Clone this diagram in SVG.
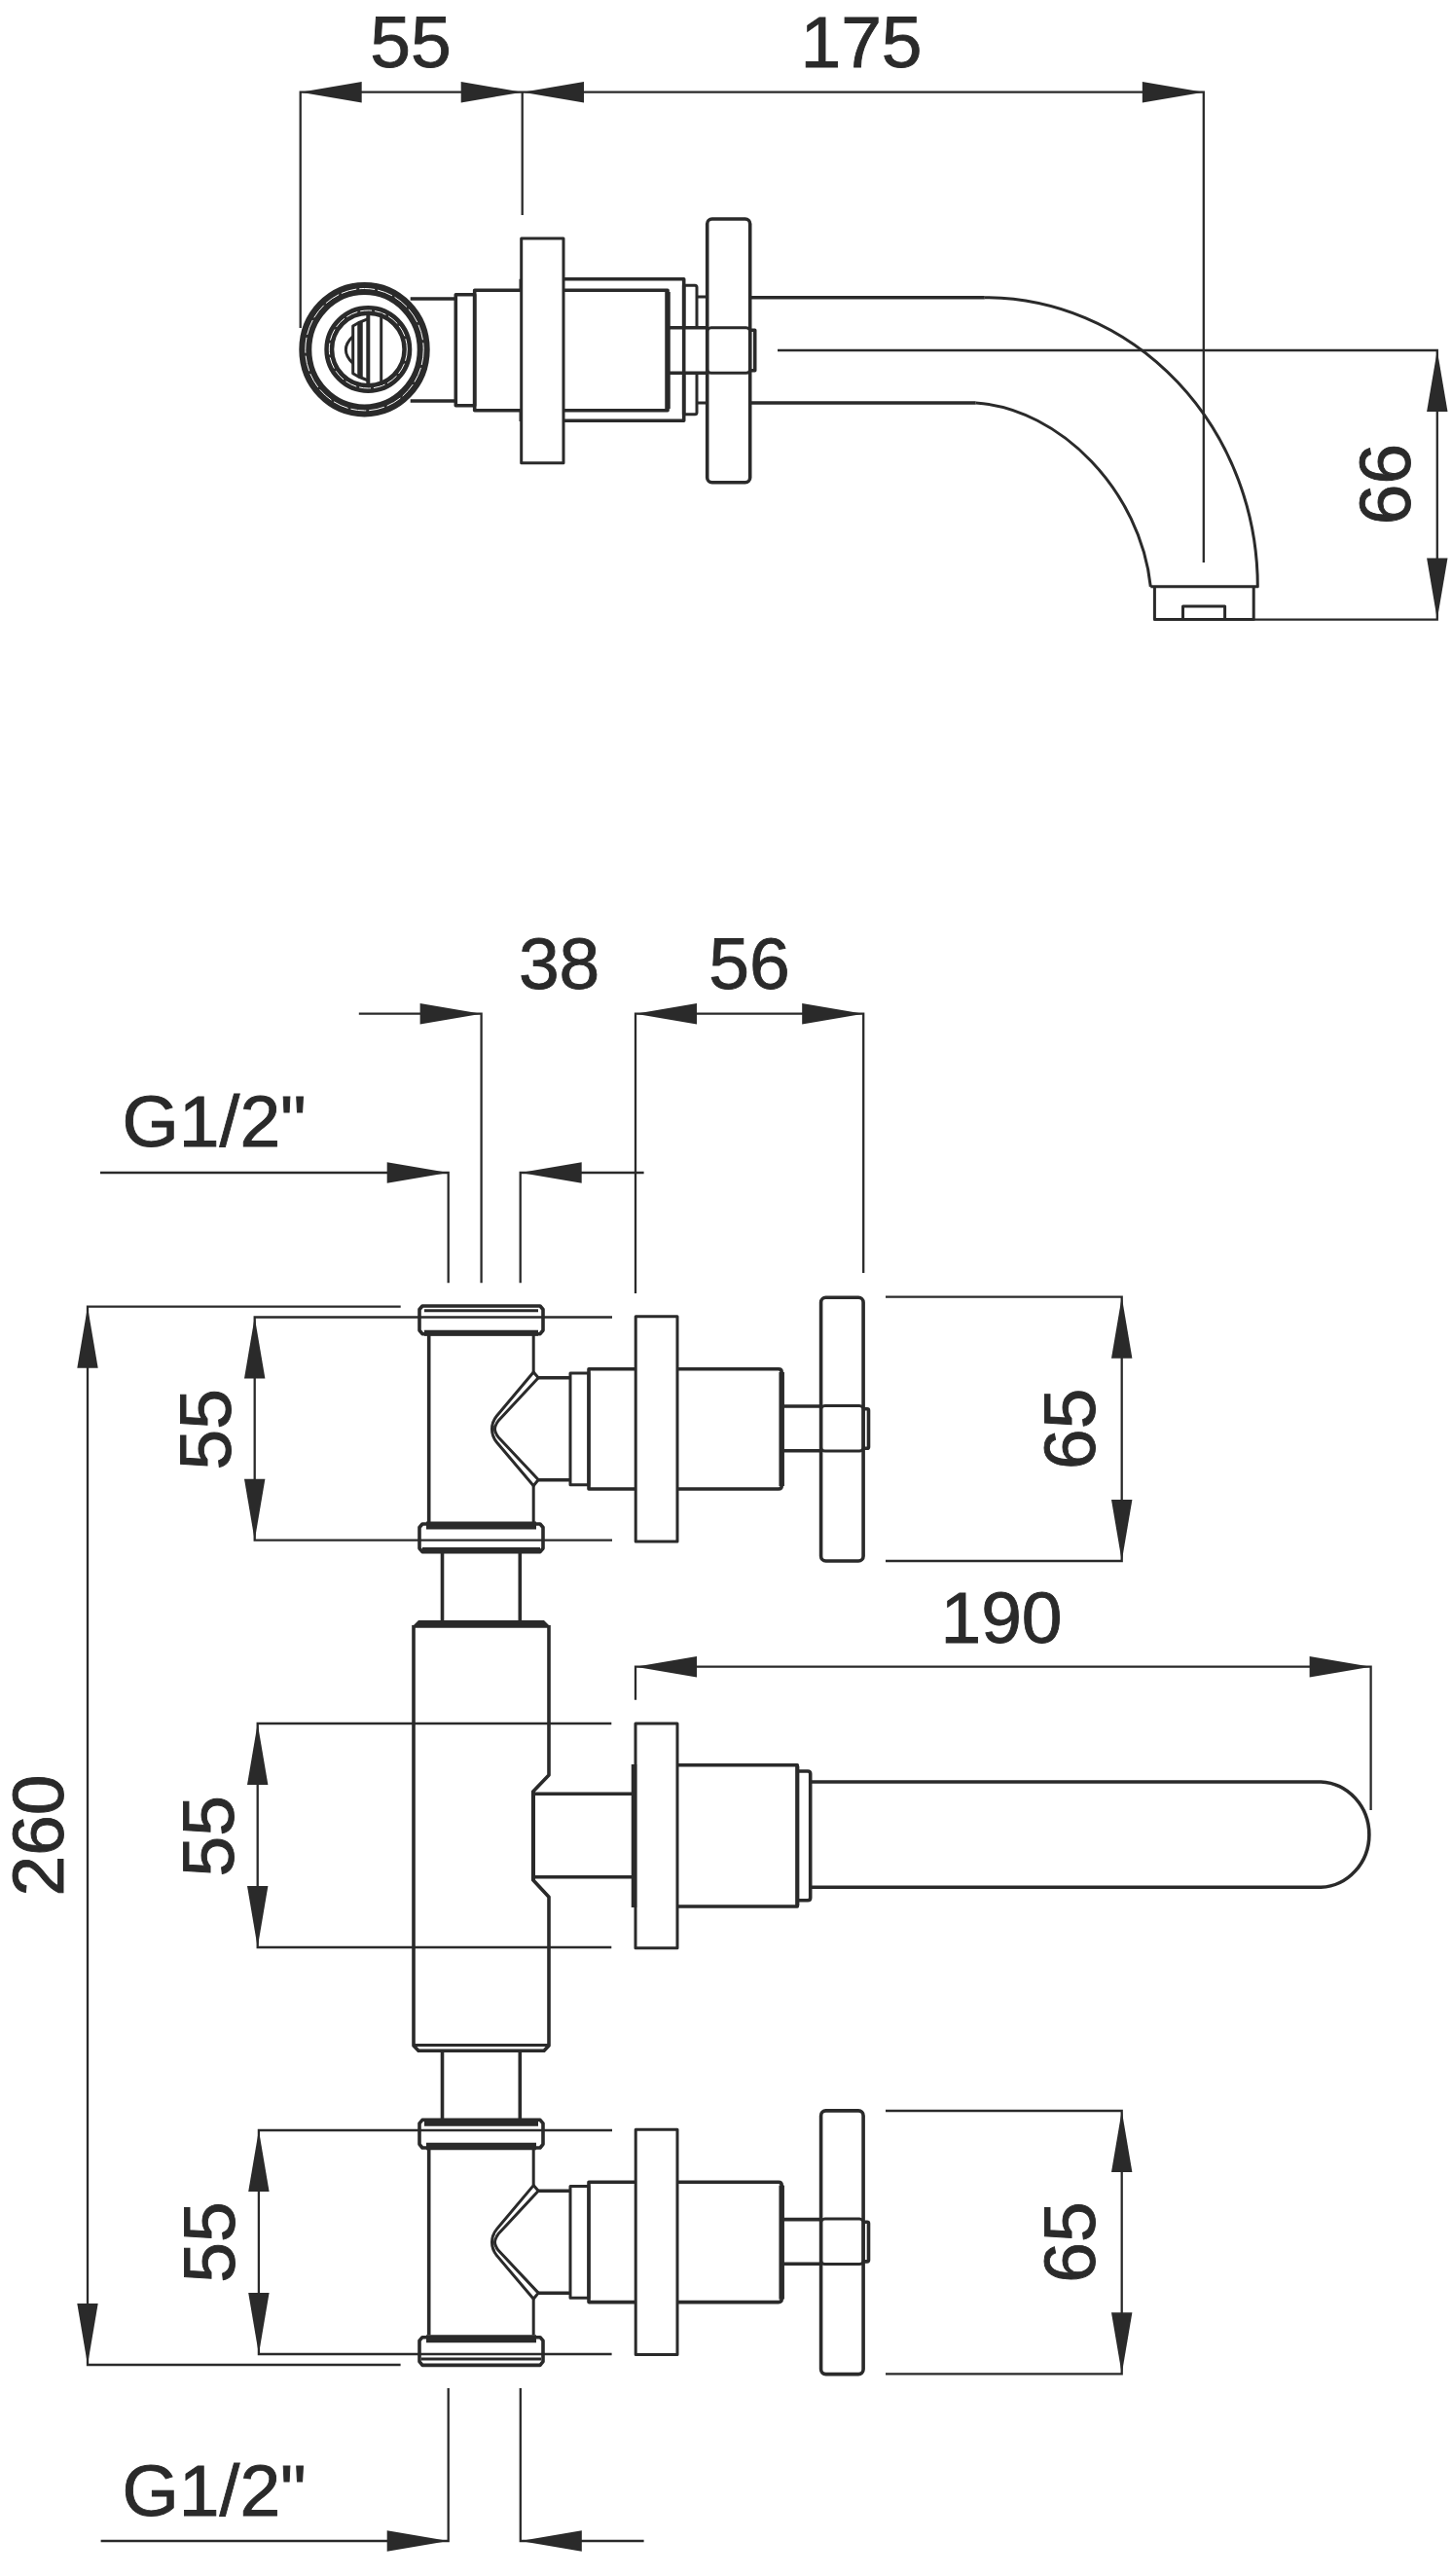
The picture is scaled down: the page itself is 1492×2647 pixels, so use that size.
<svg xmlns="http://www.w3.org/2000/svg" xmlns:xlink="http://www.w3.org/1999/xlink" width="1492" height="2647" viewBox="0 0 1492 2647">
<style>
.o{fill:none;stroke:#2a2a2a;stroke-width:3.6;stroke-linejoin:round}
.t{fill:none;stroke:#2a2a2a;stroke-width:3;stroke-linejoin:round}
.h{fill:none;stroke:#2a2a2a;stroke-width:5.5}
.d{fill:none;stroke:#2a2a2a;stroke-width:2.3}
.a{fill:#2a2a2a}
text{font-family:"Liberation Sans",Arial,sans-serif;font-size:75px;fill:#2a2a2a;stroke:#2a2a2a;stroke-width:.9;text-anchor:middle}
.g{text-anchor:start}
</style>
<defs>
<polygon id="ah" class="a" points="0,0 -63,-10.7 -63,10.7"/>
<g id="valve">
<path class="o" d="M440.7 1372V1564"/>
<path class="t" d="M548.2 1372V1410M548.2 1527V1564"/>
<path class="t" d="M548.2 1410L510.4 1455Q505.5 1461 505.5 1468.5Q505.5 1476 510.4 1482L548.2 1526.7L553.2 1520.5L512 1476.7Q508.5 1472 508.5 1468.5Q508.5 1465 512 1460L553.2 1415.7Z"/>
<path class="o" d="M553.2 1415.7H586M553.2 1520.7H586"/>
<rect class="t" x="586" y="1411" width="19" height="114.7"/>
<path class="o" d="M653.2 1406.7H605V1530H653.2"/>
<rect class="t" x="653.2" y="1352.7" width="42.8" height="231.3"/>
<path class="o" d="M696 1406.7H800Q803.2 1406.7 803.2 1410V1527Q803.2 1530 800 1530H696"/>
<path class="h" d="M803.2 1410V1527"/>
<path class="o" d="M803.2 1445H843.6M803.2 1490.7H843.6"/>
<rect class="o" x="843.6" y="1333.3" width="43.5" height="270.7" rx="5"/>
<rect class="t" x="843.6" y="1444.5" width="43.5" height="46.5" rx="4"/>
<path class="o" d="M887.1 1447.7H891Q892.5 1447.7 892.5 1449.2V1487Q892.5 1488.3 891 1488.3H887.1"/>
</g>
<path id="cap" class="o" d="M434 0H555L558 3.5V25L555 28.7H434L431 25V3.5Z"/>
</defs>

<g id="connectors">
<path class="d" d="M308.7 337V94.7H1236.8V578"/>
<path class="d" d="M536.7 94.7V221"/>
<path class="d" d="M799 360H1476.8V636.6H1288"/>
<path class="d" d="M368.8 1041.7H494.6V1318.3"/>
<path class="d" d="M653 1329V1041.7H887.2V1308"/>
<path class="d" d="M103 1205H460.7V1318.3"/>
<path class="d" d="M661.6 1205H534.7V1318.3"/>
<path class="d" d="M411.7 1342.7H90V2430H411.6"/>
<path class="d" d="M629 1353.5H261.7V1582.7H629"/>
<path class="d" d="M628.3 1771H264.7V2001H628.3"/>
<path class="d" d="M629 2189H265.9V2419H628.6"/>
<path class="d" d="M910 1332.7H1152.7V1604H910"/>
<path class="d" d="M910 2169H1152.7V2439.3H910"/>
<path class="d" d="M653 1746.7V1712.7H1408.6V1860"/>
<path class="d" d="M460.7 2454V2611H103.6"/>
<path class="d" d="M534.8 2454V2611H661.6"/>
<use xlink:href="#ah" transform="translate(308.7 94.7) rotate(180)"/>
<use xlink:href="#ah" transform="translate(536.7 94.7)"/>
<use xlink:href="#ah" transform="translate(537 94.7) rotate(180)"/>
<use xlink:href="#ah" transform="translate(1236.8 94.7)"/>
<use xlink:href="#ah" transform="translate(1476.8 360) rotate(-90)"/>
<use xlink:href="#ah" transform="translate(1476.8 636.6) rotate(90)"/>
<use xlink:href="#ah" transform="translate(494.6 1041.7)"/>
<use xlink:href="#ah" transform="translate(653 1041.7) rotate(180)"/>
<use xlink:href="#ah" transform="translate(887.2 1041.7)"/>
<use xlink:href="#ah" transform="translate(460.7 1205)"/>
<use xlink:href="#ah" transform="translate(534.7 1205) rotate(180)"/>
<use xlink:href="#ah" transform="translate(90 1342.7) rotate(-90)"/>
<use xlink:href="#ah" transform="translate(90 2430) rotate(90)"/>
<use xlink:href="#ah" transform="translate(261.7 1353.5) rotate(-90)"/>
<use xlink:href="#ah" transform="translate(261.7 1582.7) rotate(90)"/>
<use xlink:href="#ah" transform="translate(264.7 1771) rotate(-90)"/>
<use xlink:href="#ah" transform="translate(264.7 2001) rotate(90)"/>
<use xlink:href="#ah" transform="translate(265.9 2189) rotate(-90)"/>
<use xlink:href="#ah" transform="translate(265.9 2419) rotate(90)"/>
<use xlink:href="#ah" transform="translate(1152.7 1332.7) rotate(-90)"/>
<use xlink:href="#ah" transform="translate(1152.7 1604) rotate(90)"/>
<use xlink:href="#ah" transform="translate(1152.7 2169) rotate(-90)"/>
<use xlink:href="#ah" transform="translate(1152.7 2439.3) rotate(90)"/>
<use xlink:href="#ah" transform="translate(653 1712.7) rotate(180)"/>
<use xlink:href="#ah" transform="translate(1408.6 1712.7)"/>
<use xlink:href="#ah" transform="translate(460.7 2611)"/>
<use xlink:href="#ah" transform="translate(534.8 2611) rotate(180)"/>
</g>

<g id="top-view">
<ellipse style="fill:none;stroke:#2a2a2a;stroke-width:13" cx="374.5" cy="359.2" rx="60.7" ry="62.7"/>
<ellipse style="fill:none;stroke:#fff;stroke-width:1;stroke-dasharray:16 3" cx="374.5" cy="359.2" rx="60.7" ry="62.7"/>
<circle style="fill:none;stroke:#2a2a2a;stroke-width:10" cx="378.3" cy="359" r="40"/>
<circle style="fill:none;stroke:#fff;stroke-width:1;stroke-dasharray:12 3" cx="378.3" cy="359" r="40"/>
<path class="h" style="stroke-width:4" d="M378.3 323V395"/>
<path class="t" d="M391.7 321.7V396"/>
<path class="h" d="M370 331V387"/>
<path class="t" d="M378.3 327.7L368.3 331.7L362.7 335V383.7L368.3 387L378.3 391"/>
<path class="t" d="M362.7 345.7Q348 359.3 362.7 373.3"/>
<path class="o" d="M421.7 307H468.3M421.7 412H468.3"/>
<rect class="o" x="468.3" y="302.7" width="19.4" height="114"/>
<path class="o" d="M535.7 298.3H487.7V421.7H535.7"/>
<rect class="t" x="535.7" y="245" width="43.3" height="230.7"/>
<path class="t" d="M535 286.7V298M535 422V433"/>
<path class="o" d="M579 286.7H702.7V432.3H579"/>
<path class="o" d="M579 298.3H686V421.7H579"/>
<path class="h" d="M686 300V420"/>
<path class="t" d="M702.7 293.3H714Q716 293.3 716 295.3V336.7M716 383.3V423.7Q716 425.7 714 425.7H702.7"/>
<path class="o" d="M702.7 336.7V293.3M702.7 383.3V425.7"/>
<path class="o" d="M686 336.7H726.7M686 383.3H726.7"/>
<path class="t" d="M716 305H726.7M716 414H726.7"/>
<rect class="o" x="726.7" y="225" width="44" height="270.7" rx="5"/>
<rect class="t" x="726.7" y="336.7" width="44" height="46.6" rx="4"/>
<path class="o" d="M770.7 339.3H775.7V380.7H770.7"/>
<path class="o" d="M770.7 305.7H1011.8M770.7 414H1002.7"/>
<path class="t" d="M1011.8 305.7A280.5 297 0 0 1 1292.3 602.8H1182.3"/>
<path class="t" d="M1002.7 414C1090 420 1172 505 1182.3 602.8"/>
<path class="t" d="M1186.4 602.8V636.6H1288.2V602.8"/>
<path class="t" d="M1215.5 636.6V623H1258.6V636.6"/>
</g>

<g id="valve-upper">
<use xlink:href="#valve"/>
<use xlink:href="#cap" transform="translate(0 1342)"/>
<path class="t" d="M436 1346.8H553"/>
<path class="h" style="stroke-width:6" d="M436 1369.7H553"/>
<use xlink:href="#cap" transform="translate(0 1566)"/>
<path class="h" style="stroke-width:8" d="M438 1567.5H551"/>
<path class="h" style="stroke-width:5" d="M434 1592.5H555"/>
</g>

<g id="valve-lower">
<use xlink:href="#valve" transform="translate(0 835.6)"/>
<use xlink:href="#cap" transform="translate(0 2178.3)"/>
<path class="h" style="stroke-width:7.5" d="M436 2181H553"/>
<path class="h" style="stroke-width:7.5" d="M438 2205.5H551"/>
<use xlink:href="#cap" transform="translate(0 2401.7)"/>
<path class="h" style="stroke-width:8" d="M438 2403.3H551"/>
<path class="t" d="M433 2424H556"/>
</g>

<g id="body">
<path class="o" d="M454.5 1595V1665M534.3 1595V1665M454.5 2107V2177M534.3 2107V2177"/>
<polygon class="a" points="430,1665 559,1665 564,1670 564,1672.7 425,1672.7 425,1670"/>
<path class="o" d="M425 1670V2102L430 2107.3H559L564 2102V1949.3L547.7 1931.7V1841L564 1824V1670"/>
<path class="t" d="M426 2101.5H563"/>
<path class="h" style="stroke-width:4" d="M548 1841V1932"/>
<path class="o" d="M548 1843.3H650M548 1928.7H650"/>
<path class="h" d="M651.5 1813V1960"/>
<rect class="t" x="653" y="1771" width="43" height="230.7"/>
<path class="o" d="M696 1813.7H819.3V1959H696"/>
<path class="h" style="stroke-width:4" d="M819.3 1815V1958"/>
<path class="o" d="M819.3 1820H830Q832.7 1820 832.7 1822.7V1950Q832.7 1952.7 830 1952.7H819.3"/>
<path class="o" d="M832.7 1831H1357.3A51.8 54.2 0 0 1 1357.3 1939.3H832.7"/>
</g>

<g id="labels">
<text x="422" y="69">55</text>
<text x="885" y="69">175</text>
<text transform="translate(1449 497.6) rotate(-90)">66</text>
<text x="574.6" y="1016">38</text>
<text x="770" y="1016">56</text>
<text class="g" x="125.5" y="1178">G1/2"</text>
<text x="1029" y="1688">190</text>
<text class="g" x="125.5" y="2585">G1/2"</text>
<text transform="translate(237 1468.7) rotate(-90)">55</text>
<text transform="translate(240 1886.7) rotate(-90)">55</text>
<text transform="translate(241 2304) rotate(-90)">55</text>
<text transform="translate(65 1886) rotate(-90)">260</text>
<text transform="translate(1125 1468.2) rotate(-90)">65</text>
<text transform="translate(1125 2304) rotate(-90)">65</text>
</g>
</svg>
